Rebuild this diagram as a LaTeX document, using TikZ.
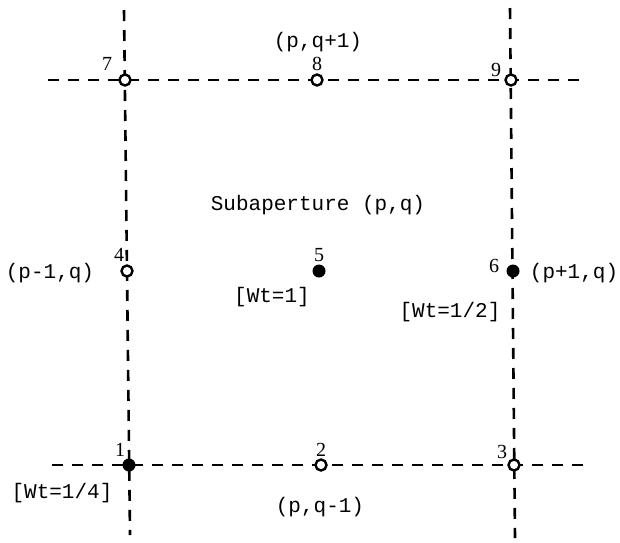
\documentclass[tikz,border=0pt]{standalone}
\usepackage{fontspec}
\setmonofont{Liberation Mono}
\newfontfamily\numfont{Liberation Serif}
\usetikzlibrary{positioning}

\tikzset{
  gridline/.style={dash pattern=on 11pt off 9pt, line width=2.6pt},
  openpt/.style={circle, draw, fill=white, line width=2.4pt, inner sep=0pt, minimum size=11pt},
  fullpt/.style={circle, fill, inner sep=0pt, minimum size=13pt},
  num/.style={font=\numfont\fontsize{20}{22}\selectfont, inner sep=0pt},
  txt/.style={font=\ttfamily\fontsize{21}{24}\selectfont, inner sep=0pt},
}

\begin{document}
\begin{tikzpicture}[x=1pt,y=-1pt]
  \useasboundingbox (0,0) rectangle (620,542);
  % free ends of the grid lines
  \coordinate (lt) at (124,10);
  \coordinate (lb) at (130,535);
  \coordinate (rt) at (510,8);
  \coordinate (rb) at (515,538);
  \coordinate (tl) at (48,80);
  \coordinate (tr) at (580,80);
  \coordinate (bl) at (52,465);
  \coordinate (br) at (585,465);
  % sample points
  \coordinate (c7) at (125,80);
  \coordinate (c9) at (511,80);
  \coordinate (c1) at (129,465);
  \coordinate (c3) at (514,465);
  \draw[gridline] (lt) -- (lb);
  \draw[gridline] (rt) -- (rb);
  \draw[gridline] (tl) -- (tr);
  \draw[gridline] (bl) -- (br);
  \node[openpt] (p7) at (c7) {};
  \node[openpt] (p8) at (317,80) {};
  \node[openpt] (p9) at (c9) {};
  \node[openpt] (p4) at (127,271) {};
  \node[fullpt] (p5) at (319,271) {};
  \node[fullpt] (p6) at (513,271) {};
  \node[fullpt] (p1) at (c1) {};
  \node[openpt] (p2) at (321,465) {};
  \node[openpt] (p3) at (c3) {};
  % point numbers
  \node[num] (n7) at (107,64) {7};
  \node[num] (n8) at (317,64) {8};
  \node[num] (n9) at (496,70) {9};
  \node[num] (n4) at (119,255) {4};
  \node[num] (n5) at (319,255) {5};
  \node[num] (n6) at (494,266) {6};
  \node[num] (n1) at (120,450) {1};
  \node[num] (n2) at (321,450) {2};
  \node[num] (n3) at (502,452) {3};
  % labels
  \node[txt] (top) at (318,42) {(p,q+1)};
  \node[txt] (sub) at (318,205) {Subaperture (p,q)};
  \node[txt] (west) at (50,273) {(p-1,q)};
  \node[txt] (east) at (574,273) {(p+1,q)};
  \node[txt] (w5) at (272,297) {[Wt=1]};
  \node[txt] (w6) at (450,312) {[Wt=1/2]};
  \node[txt] (w1) at (62,493) {[Wt=1/4]};
  \node[txt] (bot) at (320,507) {(p,q-1)};
\end{tikzpicture}
\end{document}
